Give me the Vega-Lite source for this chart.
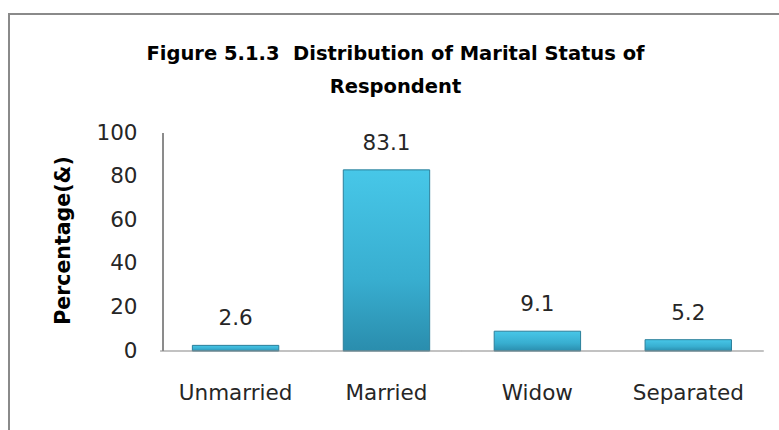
{
  "$schema": "https://vega.github.io/schema/vega-lite/v6.json",
  "width": 773,
  "height": 419,
  "autosize": {"type": "none"},
  "padding": {"left": 9, "top": 14, "right": -3, "bottom": -3},
  "background": "white",
  "config": {
    "view": {"stroke": "#8a8a8a", "strokeWidth": 2},
    "font": "DejaVu Sans"
  },
  "title": {
    "text": ["Figure 5.1.3\u00a0 Distribution of Marital Status of", "Respondent"],
    "font": "DejaVu Sans",
    "fontSize": 19.5,
    "fontWeight": "bold",
    "color": "#000000",
    "lineHeight": 33,
    "anchor": "middle",
    "frame": "group",
    "offset": -83
  },
  "data": {
    "values": [
      {"status": "Unmarried", "pct": 2.6},
      {"status": "Married", "pct": 83.1},
      {"status": "Widow", "pct": 9.1},
      {"status": "Separated", "pct": 5.2}
    ]
  },
  "layer": [
    {
      "mark": {
        "type": "bar",
        "color": {
          "gradient": "linear", "x1": 0, "y1": 0, "x2": 0, "y2": 1,
          "stops": [
            {"offset": 0, "color": "#47C7E8"},
            {"offset": 0.6, "color": "#38AED0"},
            {"offset": 1, "color": "#2A8DAD"}
          ]
        },
        "stroke": "#2B7F9A",
        "strokeWidth": 1
      },
      "encoding": {
        "x": {
          "field": "status",
          "type": "nominal",
          "scale": {
            "domain": ["Unmarried", "Married", "Widow", "Separated"],
            "paddingInner": 0.4274,
            "paddingOuter": 0.775,
            "align": 0.784,
            "round": false
          },
          "axis": {
            "orient": "bottom",
            "offset": -82,
            "bandPosition": 0.5,
            "domain": false,
            "ticks": false,
            "labelPadding": 31,
            "labelAlign": "center",
            "labelFont": "DejaVu Sans",
            "labelFontSize": 21.5,
            "labelColor": "#262626",
            "labelAngle": 0,
            "title": null
          }
        },
        "y": {
          "field": "pct",
          "type": "quantitative",
          "scale": {"domain": [-37.6, 154.6], "nice": false, "zero": false},
          "axis": {
            "orient": "left",
            "offset": -154,
            "values": [0, 20, 40, 60, 80, 100],
            "domain": false,
            "ticks": false,
            "grid": false,
            "labelPadding": 26,
            "labelFont": "DejaVu Sans",
            "labelFontSize": 21.5,
            "labelColor": "#262626",
            "title": "Percentage(&)",
            "titleFont": "DejaVu Sans",
            "titleFontSize": 20.5,
            "titleFontWeight": "bold",
            "titleColor": "#000000",
            "titleX": -100,
            "titleY": 226,
            "titleAngle": 270,
            "titleAlign": "center",
            "titleBaseline": "middle"
          }
        },
        "y2": {"datum": 0}
      }
    },
    {
      "mark": {"type": "tick", "color": "#8c8c8c", "thickness": 1.5, "size": 151, "orient": "horizontal"},
      "encoding": {
        "x": {"field": "status", "type": "nominal", "bandPosition": 0.53},
        "y": {"datum": 0, "type": "quantitative"}
      }
    },
    {
      "mark": {"type": "rule", "color": "#8c8c8c", "strokeWidth": 1.5},
      "encoding": {
        "x": {"datum": "Unmarried", "type": "nominal", "bandPosition": -0.34},
        "y": {"datum": 0, "type": "quantitative"},
        "y2": {"datum": 100}
      }
    },
    {
      "mark": {
        "type": "text",
        "font": "DejaVu Sans",
        "fontSize": 21.5,
        "color": "#262626",
        "baseline": "alphabetic",
        "dy": -20
      },
      "encoding": {
        "x": {"field": "status", "type": "nominal"},
        "y": {"field": "pct", "type": "quantitative"},
        "text": {"field": "pct", "type": "quantitative", "format": ".1f"}
      }
    }
  ]
}
